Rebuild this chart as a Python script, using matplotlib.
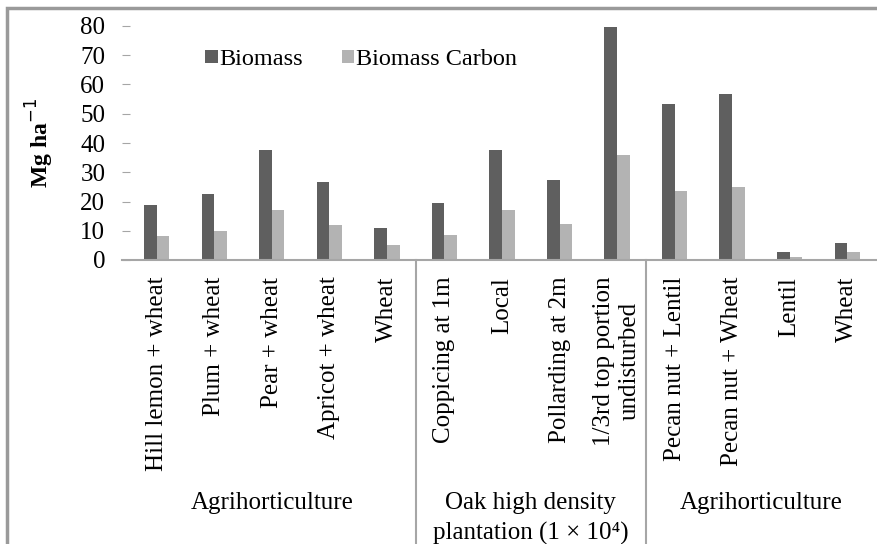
import matplotlib
matplotlib.use("Agg")
import matplotlib.pyplot as plt
import matplotlib.transforms as mtransforms
from matplotlib.patches import Rectangle
import numpy as np

# ── Data ──────────────────────────────────────────────────────────────────────
categories = [
    "Hill lemon + wheat", "Plum + wheat", "Pear + wheat", "Apricot + wheat", "Wheat",
    "Coppicing at 1m", "Local", "Pollarding at 2m", "1/3rd top portion\nundisturbed",
    "Pecan nut + Lentil", "Pecan nut + Wheat", "Lentil", "Wheat",
]
biomass = [18.8, 22.6, 37.6, 26.7, 11.0, 19.5, 37.6, 27.4, 79.7, 53.3, 56.6, 2.6, 5.9]
biomass_carbon = [8.2, 9.9, 17.1, 12.0, 5.0, 8.5, 17.1, 12.3, 35.9, 23.7, 25.1, 0.9, 2.6]
group_names = ["Agrihorticulture", "Oak high density\nplantation (1 × 10⁴)", "Agrihorticulture"]
group_sizes = [5, 4, 4]
yticks = [0, 10, 20, 30, 40, 50, 60, 70, 80]
# ─────────────────────────────────────────────────────────────────────────────

W, H = 877, 544
DARK = "#5f5f5f"
LIGHT = "#b3b3b3"
GRID = "#a6a6a6"
FONT = "Liberation Serif"

plt.rcParams["font.family"] = [FONT, "DejaVu Serif"]

fig = plt.figure(figsize=(W / 100, H / 100), dpi=100)
ax = fig.add_axes([122 / W, (H - 260) / H, (876 - 122) / W, 234 / H])

x = np.arange(len(categories))
bw = 0.22
ax.bar(x - bw / 2, biomass, width=bw, color=DARK, label="Biomass")
ax.bar(x + bw / 2, biomass_carbon, width=bw, color=LIGHT, label="Biomass Carbon")

ax.set_xlim(-0.604, len(categories) - 0.5)
ax.set_ylim(0, 80)
ax.set_yticks(yticks)
ax.set_xticks(x)
ax.set_xticklabels(categories, rotation=90, va="top", ha="center",
                   fontsize=18, linespacing=1.25)
ax.tick_params(axis="x", length=0, pad=12)
ax.tick_params(axis="y", direction="in", length=6, color=GRID, pad=12, labelsize=18)

for s in ["top", "right", "left"]:
    ax.spines[s].set_visible(False)
ax.spines["bottom"].set_color(GRID)
ax.spines["bottom"].set_linewidth(1.5)

ax.set_ylabel("Mg ha$^{-1}$", fontsize=17, fontweight="bold")
ax.yaxis.set_label_coords(-0.088, 0.5)

leg = ax.legend(loc="upper left", bbox_to_anchor=(0.088, 0.975), ncol=2, frameon=False,
                fontsize=17.5, handlelength=0.5, handleheight=0.45, handletextpad=0.08,
                columnspacing=1.6, borderpad=0.2)

# group separators and names
trans = mtransforms.blended_transform_factory(ax.transData, fig.transFigure)
start = 0
for name, n in zip(group_names, group_sizes):
    end = start + n
    if end < len(categories):
        ax.plot([end - 0.5, end - 0.5], [0, (H - 260) / H], transform=trans,
                color=GRID, lw=1.5, clip_on=False)
    center = (start + end - 1) / 2
    ax.text(center, (H - 492) / H, name, transform=trans, ha="center", va="top",
            fontsize=18, linespacing=1.45)
    start = end

# outer frame
fig.patches.append(Rectangle((7 / W, -0.05), 1.0, (H - 8) / H + 0.05,
                             transform=fig.transFigure, fill=False,
                             edgecolor="#9a9a9a", lw=2.5))

fig.savefig("out.png", dpi=100)
